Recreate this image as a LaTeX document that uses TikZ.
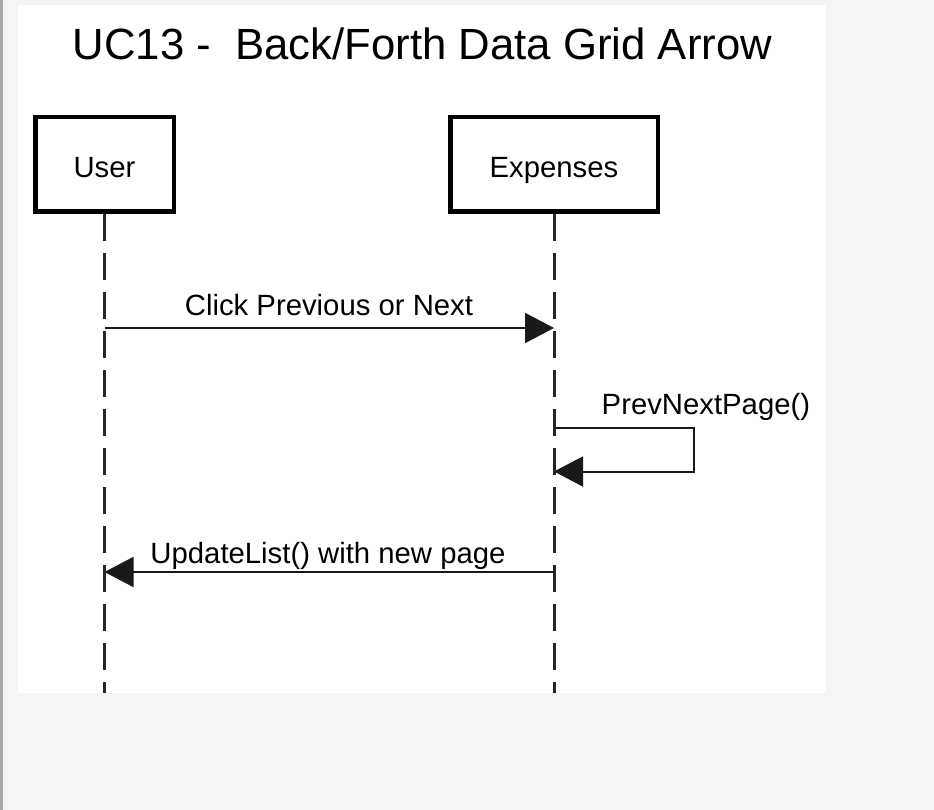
\documentclass[tikz,border=0pt]{standalone}
\usepackage{fontspec}
\setmainfont{Liberation Sans}
\usetikzlibrary{arrows.meta}
\definecolor{pagebg}{HTML}{F5F5F5}
\definecolor{edgegray}{HTML}{A8A8A8}
\definecolor{ink}{HTML}{000000}
\begin{document}
\begin{tikzpicture}[x=1pt,y=-1pt,
  actorbox/.style={draw=ink,line width=4.5pt,rectangle,minimum height=94.5pt,inner sep=0pt,
    text height=27pt,text depth=0pt,font=\fontsize{29.3}{33}\selectfont},
  lifeline/.style={draw=ink!85,line width=3pt,dash pattern=on 27pt off 12pt},
  msg/.style={draw=ink!90,line width=2pt,-{Triangle[length=29pt,width=30pt]}},
  msglabel/.style={font=\fontsize{29.3}{33}\selectfont,inner sep=0pt,anchor=base},
]
\useasboundingbox (0,0) rectangle (934,810);
\fill[pagebg] (0,0) rectangle (934,810);
\fill[edgegray] (0,0) rectangle (2.5,810);
\fill[white] (18,5) rectangle (826,693);

\node[inner sep=0pt,anchor=base,font=\fontsize{43.7}{50}\selectfont] (title) at (422.5,60) {UC13 -\ \ Back/Forth Data Grid Arrow};

\node[actorbox,minimum width=138.5pt] (user) at (104.5,164.5) {User};
\node[actorbox,minimum width=207.5pt] (exp) at (554,164.5) {Expenses};

\coordinate (uend) at (104.5,693);
\coordinate (eend) at (554,693);
\draw[lifeline] (user.south) -- (uend);
\draw[lifeline] (exp.south) -- (eend);

% message 1
\coordinate (u1) at (104.5,328);
\coordinate (e1) at (554,328);
\draw[msg] (u1) -- (e1);
\node[msglabel] (l1) at (329,315.5) {Click Previous or Next};

% self message
\coordinate (s1) at (554,428);
\coordinate (s2) at (554,471.5);
\coordinate (sr) at (694,428);
\draw[msg] (s1) -- (sr) |- (s2);
\node[msglabel,anchor=base west] (l2) at (601.5,414) {PrevNextPage()};

% message 3
\coordinate (e3) at (554,572);
\coordinate (u3) at (104.5,572);
\draw[msg] (e3) -- (u3);
\node[msglabel] (l3) at (328,563) {UpdateList() with new page};
\end{tikzpicture}
\end{document}
